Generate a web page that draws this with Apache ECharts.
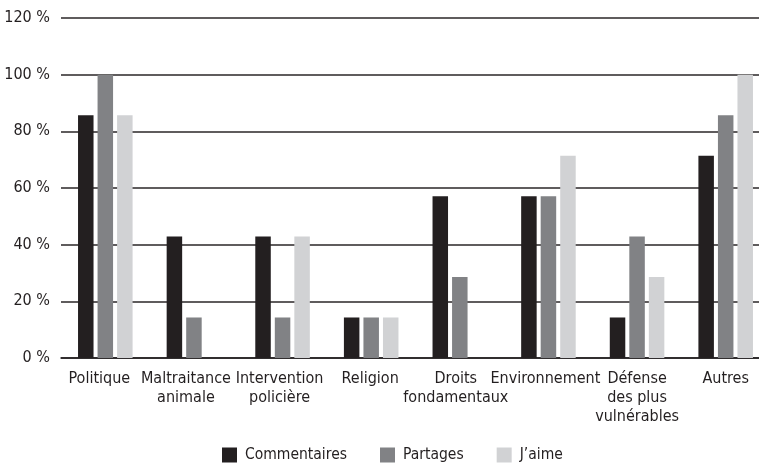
<!DOCTYPE html>
<html><head><meta charset="utf-8">
<script src="https://cdn.jsdelivr.net/npm/echarts@6/dist/echarts.min.js"></script>
<style>html,body{margin:0;padding:0;background:#fff;overflow:hidden}#c{width:770px;height:465px}</style>
</head><body><div id="c"></div>
<script>
const categories = ['Politique','Maltraitance\nanimale','Intervention\npolicière','Religion','Droits\nfondamentaux','Environnement','Défense\ndes plus\nvulnérables','Autres'];
const commentaires = [85.7, 42.9, 42.9, 14.3, 57.1, 57.1, 14.3, 71.4];
const partages = [100, 14.3, 14.3, 14.3, 28.6, 57.1, 42.9, 85.7];
const jaime = [85.7, 0, 42.9, 14.3, 0, 71.4, 28.6, 100];
const seriesNames = ['Commentaires','Partages','J\u2019aime'];
const yTicks = {min: 0, max: 120, interval: 20};

// small leftward nudges of the category labels, as in the reference layout
const labelShift = [6, 8, 3, 1, 4, 3, 0, 0];

const FONT = '"DejaVu Sans Condensed","Liberation Sans Narrow",sans-serif';
const chart = echarts.init(document.getElementById('c'), null, {renderer:'canvas'});
const colors = ['#231f20','#818285','#d1d2d4'];
const data = [commentaires, partages, jaime];
chart.setOption({
  animation:false,
  textStyle:{fontFamily:FONT},
  grid:{left:61, top:18, right:0, bottom:107, containLabel:false},
  legend:{
    bottom:2, left:222, padding:0, itemWidth:15, itemHeight:15, itemGap:33,
    icon:'rect',
    textStyle:{fontFamily:FONT, fontSize:15.5, color:'#231f20', padding:[0,0,0,3]},
    data:seriesNames
  },
  xAxis:{
    type:'category',
    data:categories.map((c,i)=>({value:c, textStyle:{padding:[0, 2*labelShift[i], 0, 0]}})),
    axisLine:{lineStyle:{color:'#231f20', width:1.5}},
    axisTick:{show:false},
    axisLabel:{interval:0, fontFamily:FONT, fontSize:16, color:'#231f20', lineHeight:19, margin:11}
  },
  yAxis:{
    type:'value', min:yTicks.min, max:yTicks.max, interval:yTicks.interval,
    axisLine:{show:false}, axisTick:{show:false},
    axisLabel:{formatter:'{value} %', fontFamily:FONT, fontSize:16, color:'#231f20', margin:11},
    splitLine:{lineStyle:{color:'#2a2627', width:1.5}}
  },
  series: seriesNames.map((n,i)=>({
    name:n, type:'bar', data:data[i], barWidth:15.5, barGap:'26%',
    itemStyle:{color:colors[i]}
  }))
});
</script></body></html>
